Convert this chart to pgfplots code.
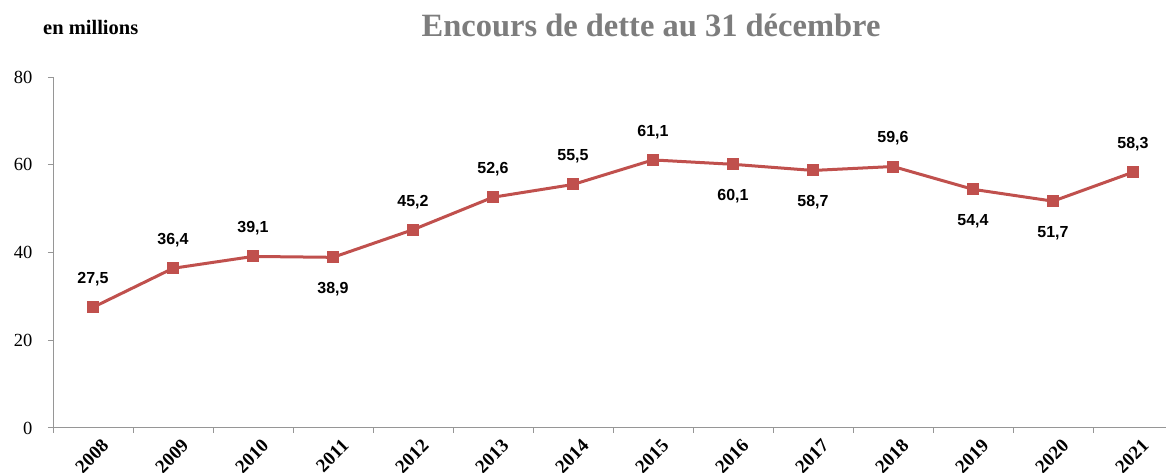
\documentclass[border=0pt]{standalone}
\usepackage{fontspec}
\setmainfont{Liberation Serif}
\newfontfamily\labelfont{Liberation Sans}
\usepackage{pgfplots}
\usepackage{pgfplotstable}
\pgfplotsset{compat=1.18}
\definecolor{serie}{RGB}{192,80,77}
\definecolor{axisgray}{RGB}{150,150,150}
\definecolor{titlegray}{RGB}{125,125,125}

\pgfplotstableread{
x y lab sh
0 27.5 27,5 28
1 36.4 36,4 28
2 39.1 39,1 28
3 38.9 38,9 -32
4 45.2 45,2 28
5 52.6 52,6 28
6 55.5 55,5 28
7 61.1 61,1 28
8 60.1 60,1 -32
9 58.7 58,7 -32
10 59.6 59,6 28
11 54.4 54,4 -32
12 51.7 51,7 -32
13 58.3 58,3 28
}\datatable

\begin{document}
\begin{tikzpicture}[x=1pt,y=1pt]
\path[use as bounding box] (0,0) rectangle (1166,473);
\node[anchor=base, text=titlegray, font=\bfseries\fontsize{32.5}{36}\selectfont] at (651,436) {Encours de dette au 31 décembre};
\node[anchor=base west, inner sep=0pt, font=\bfseries\fontsize{20.5}{22}\selectfont] at (43,438) {en millions};
\begin{axis}[
  at={(53pt,45pt)}, anchor=south west,
  scale only axis, width=1113pt, height=351pt,
  xmin=-0.5, xmax=13.4125, ymin=0, ymax=80,
  axis x line*=bottom, axis y line*=left,
  axis line style={axisgray, line width=1pt, -},
  xtick={0,...,13},
  xticklabels={2008,2009,2010,2011,2012,2013,2014,2015,2016,2017,2018,2019,2020,2021},
  minor xtick={-0.5,0.5,...,12.5},
  major x tick style={draw=none},
  minor x tick style={draw=axisgray, line width=1pt},
  minor tick length=5pt,
  ytick={0,20,40,60,80},
  y tick style={draw=axisgray, line width=1pt},
  major tick length=5pt,
  tick align=outside,
  xticklabel style={rotate=45, anchor=north east, font=\bfseries\fontsize{19}{22}\selectfont, inner sep=0pt, yshift=-9pt, xshift=2pt},
  yticklabel style={font=\fontsize{18.5}{22}\selectfont, xshift=-12pt},
  /pgf/number format/assume math mode=true,
  clip=false,
]
\addplot[serie, line width=3pt, mark=square*, mark size=5.5pt, mark options={solid, fill=serie, draw=serie, line width=0pt},
  point meta=explicit symbolic,
  visualization depends on={\thisrow{sh} \as \sh},
  nodes near coords,
  nodes near coords style={anchor=center, yshift=\sh*1pt, text=black, font=\labelfont\bfseries\fontsize{16}{18}\selectfont},
] table[x=x, y=y, meta=lab] {\datatable};
\end{axis}
\end{tikzpicture}
\end{document}
